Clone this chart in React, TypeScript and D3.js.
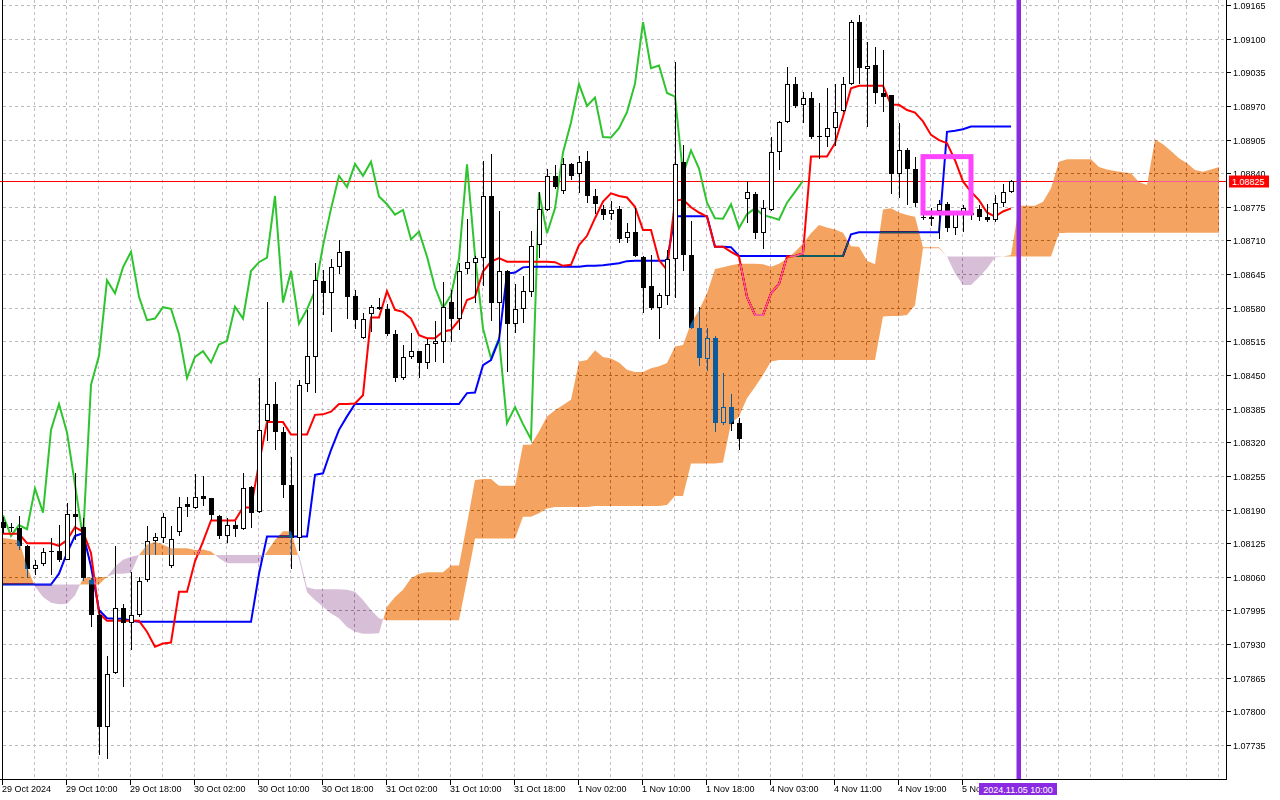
import React from 'react';
import * as d3 from 'd3';

// ---- Hourly EURUSD-like OHLC (bar 0 = 29 Oct 2024 02:00) ----
const openP = [
  1.08166, 1.08156, 1.08154, 1.08120, 1.08076, 1.08084, 1.08110, 1.08109, 1.08093, 1.08181,
  1.08157, 1.08054, 1.07986, 1.07770, 1.07875, 1.07999, 1.07970, 1.07986, 1.08054, 1.08130,
  1.08135, 1.08081, 1.08146, 1.08201, 1.08193, 1.08216, 1.08212, 1.08178, 1.08139, 1.08161,
  1.08152, 1.08234, 1.08185, 1.08362, 1.08394, 1.08339, 1.08238, 1.08135, 1.08432, 1.08485,
  1.08631, 1.08608, 1.08658, 1.08690, 1.08602, 1.08521, 1.08567, 1.08582, 1.08577, 1.08530,
  1.08444, 1.08485, 1.08496, 1.08473, 1.08509, 1.08514, 1.08592, 1.08559, 1.08654, 1.08666,
  1.08677, 1.08796, 1.08590, 1.08651, 1.08549, 1.08577, 1.08611, 1.08701, 1.08769, 1.08835,
  1.08806, 1.08857, 1.08838, 1.08864, 1.08796, 1.08770, 1.08761, 1.08770, 1.08714, 1.08726,
  1.08678, 1.08622, 1.08579, 1.08603, 1.08675, 1.08861, 1.08682, 1.08540, 1.08480, 1.08521,
  1.08357, 1.08388, 1.08357, 1.08791, 1.08800, 1.08724, 1.08769, 1.08880, 1.08938, 1.09012,
  1.08971, 1.08986, 1.08912, 1.08909, 1.08927, 1.08960, 1.09012, 1.09132, 1.09042, 1.09049,
  1.08995, 1.08991, 1.08838, 1.08884, 1.08849, 1.08756, 1.08755, 1.08766, 1.08780, 1.08734,
  1.08761, 1.08764, 1.08770, 1.08755, 1.08749, 1.08783, 1.08804,
];
const highP = [
  1.08176, 1.08164, 1.08178, 1.08122, 1.08092, 1.08115, 1.08135, 1.08160, 1.08202, 1.08260,
  1.08173, 1.08057, 1.07996, 1.07907, 1.08119, 1.08008, 1.08070, 1.08060, 1.08159, 1.08144,
  1.08183, 1.08158, 1.08214, 1.08214, 1.08258, 1.08254, 1.08213, 1.08179, 1.08173, 1.08167,
  1.08260, 1.08236, 1.08444, 1.08592, 1.08436, 1.08350, 1.08291, 1.08440, 1.08575, 1.08667,
  1.08653, 1.08675, 1.08711, 1.08690, 1.08615, 1.08569, 1.08585, 1.08598, 1.08587, 1.08537,
  1.08508, 1.08532, 1.08497, 1.08519, 1.08554, 1.08630, 1.08614, 1.08666, 1.08751, 1.08679,
  1.08864, 1.08878, 1.08766, 1.08653, 1.08626, 1.08641, 1.08728, 1.08804, 1.08848, 1.08856,
  1.08869, 1.08860, 1.08873, 1.08883, 1.08809, 1.08778, 1.08786, 1.08777, 1.08744, 1.08772,
  1.08679, 1.08682, 1.08608, 1.08691, 1.09055, 1.08895, 1.08748, 1.08582, 1.08540, 1.08525,
  1.08453, 1.08413, 1.08366, 1.08824, 1.08804, 1.08789, 1.08910, 1.08941, 1.09046, 1.09026,
  1.08997, 1.08997, 1.08976, 1.09004, 1.09013, 1.09026, 1.09136, 1.09146, 1.09094, 1.09083,
  1.09079, 1.08992, 1.08937, 1.08888, 1.08872, 1.08762, 1.08772, 1.08788, 1.08785, 1.08766,
  1.08778, 1.08769, 1.08778, 1.08781, 1.08798, 1.08820, 1.08827,
];
const lowP = [
  1.08144, 1.08147, 1.08111, 1.08057, 1.08063, 1.08081, 1.08063, 1.08089, 1.08092, 1.08131,
  1.08051, 1.07963, 1.07716, 1.07707, 1.07873, 1.07848, 1.07918, 1.07983, 1.08050, 1.08102,
  1.08125, 1.08078, 1.08139, 1.08175, 1.08191, 1.08196, 1.08170, 1.08133, 1.08126, 1.08137,
  1.08150, 1.08154, 1.08183, 1.08323, 1.08306, 1.08212, 1.08076, 1.08109, 1.08418, 1.08415,
  1.08566, 1.08534, 1.08646, 1.08559, 1.08539, 1.08519, 1.08534, 1.08575, 1.08526, 1.08437,
  1.08440, 1.08480, 1.08445, 1.08461, 1.08476, 1.08473, 1.08514, 1.08537, 1.08645, 1.08590,
  1.08622, 1.08555, 1.08521, 1.08456, 1.08532, 1.08551, 1.08601, 1.08676, 1.08766, 1.08809,
  1.08800, 1.08827, 1.08801, 1.08783, 1.08762, 1.08750, 1.08750, 1.08706, 1.08706, 1.08678,
  1.08570, 1.08575, 1.08519, 1.08585, 1.08598, 1.08651, 1.08538, 1.08467, 1.08458, 1.08339,
  1.08353, 1.08341, 1.08306, 1.08743, 1.08712, 1.08694, 1.08766, 1.08846, 1.08937, 1.08965,
  1.08937, 1.08907, 1.08867, 1.08890, 1.08892, 1.08959, 1.09010, 1.09012, 1.08930, 1.08973,
  1.08958, 1.08800, 1.08793, 1.08778, 1.08774, 1.08750, 1.08737, 1.08712, 1.08727, 1.08721,
  1.08727, 1.08750, 1.08748, 1.08745, 1.08745, 1.08775, 1.08802,
];
const closeP = [
  1.08154, 1.08154, 1.08120, 1.08076, 1.08083, 1.08108, 1.08107, 1.08093, 1.08181, 1.08175,
  1.08057, 1.07986, 1.07770, 1.07873, 1.07999, 1.07970, 1.07986, 1.08052, 1.08130, 1.08137,
  1.08176, 1.08133, 1.08195, 1.08195, 1.08215, 1.08211, 1.08179, 1.08139, 1.08160, 1.08152,
  1.08231, 1.08184, 1.08344, 1.08394, 1.08339, 1.08238, 1.08135, 1.08431, 1.08487, 1.08633,
  1.08608, 1.08658, 1.08688, 1.08601, 1.08556, 1.08559, 1.08581, 1.08578, 1.08529, 1.08444,
  1.08485, 1.08496, 1.08474, 1.08509, 1.08516, 1.08582, 1.08559, 1.08651, 1.08668, 1.08677,
  1.08796, 1.08590, 1.08651, 1.08549, 1.08577, 1.08613, 1.08700, 1.08771, 1.08835, 1.08813,
  1.08858, 1.08835, 1.08862, 1.08795, 1.08780, 1.08760, 1.08769, 1.08712, 1.08727, 1.08679,
  1.08619, 1.08580, 1.08604, 1.08675, 1.08857, 1.08681, 1.08540, 1.08482, 1.08521, 1.08357,
  1.08388, 1.08355, 1.08326, 1.08803, 1.08724, 1.08772, 1.08880, 1.08938, 1.09012, 1.08970,
  1.08986, 1.08910, 1.08909, 1.08927, 1.08958, 1.09013, 1.09132, 1.09043, 1.09048, 1.08995,
  1.08988, 1.08838, 1.08884, 1.08849, 1.08783, 1.08753, 1.08752, 1.08780, 1.08734, 1.08761,
  1.08772, 1.08759, 1.08755, 1.08750, 1.08783, 1.08804, 1.08825,
];

// ---- Ichimoku lines ----
const tenkan = [
  1.08143, 1.08143, 1.08143, 1.08125, 1.08125, 1.08125, 1.08125, 1.08120, 1.08131, 1.08156,
  1.08147, 1.08106, 1.07989, 1.07975, 1.07975, 1.07975, 1.07975, 1.07975, 1.07954, 1.07925,
  1.07931, 1.07933, 1.08031, 1.08031, 1.08090, 1.08128, 1.08169, 1.08169, 1.08169, 1.08169,
  1.08194, 1.08194, 1.08279, 1.08359, 1.08359, 1.08359, 1.08335, 1.08335, 1.08335, 1.08373,
  1.08374, 1.08379, 1.08394, 1.08394, 1.08395, 1.08411, 1.08561, 1.08561, 1.08612, 1.08576,
  1.08572, 1.08559, 1.08527, 1.08521, 1.08521, 1.08534, 1.08537, 1.08556, 1.08595, 1.08601,
  1.08650, 1.08669, 1.08676, 1.08669, 1.08669, 1.08669, 1.08669, 1.08669, 1.08669, 1.08668,
  1.08661, 1.08663, 1.08701, 1.08719, 1.08753, 1.08785, 1.08801, 1.08796, 1.08793, 1.08775,
  1.08730, 1.08730, 1.08672, 1.08653, 1.08787, 1.08789, 1.08774, 1.08764, 1.08756, 1.08698,
  1.08698, 1.08688, 1.08679, 1.08601, 1.08566, 1.08566, 1.08608, 1.08626, 1.08679, 1.08680,
  1.08685, 1.08872, 1.08872, 1.08872, 1.08898, 1.08949, 1.09004, 1.09009, 1.09009, 1.09009,
  1.09009, 1.08972, 1.08972, 1.08962, 1.08957, 1.08940, 1.08914, 1.08904, 1.08898, 1.08865,
  1.08824, 1.08804, 1.08788, 1.08764, 1.08756, 1.08766, 1.08772,
];
const kijun = [
  1.08045, 1.08045, 1.08045, 1.08045, 1.08045, 1.08045, 1.08045, 1.08066, 1.08106, 1.08139,
  1.08144, 1.08080, 1.07996, 1.07980, 1.07979, 1.07979, 1.07975, 1.07973, 1.07973, 1.07973,
  1.07973, 1.07973, 1.07973, 1.07973, 1.07973, 1.07973, 1.07973, 1.07973, 1.07973, 1.07973,
  1.07973, 1.07973, 1.08066, 1.08138, 1.08138, 1.08138, 1.08138, 1.08138, 1.08138, 1.08257,
  1.08260, 1.08305, 1.08344, 1.08370, 1.08394, 1.08394, 1.08394, 1.08394, 1.08394, 1.08394,
  1.08394, 1.08394, 1.08394, 1.08394, 1.08394, 1.08394, 1.08394, 1.08394, 1.08415, 1.08416,
  1.08469, 1.08479, 1.08518, 1.08646, 1.08648, 1.08658, 1.08659, 1.08659, 1.08659, 1.08659,
  1.08659, 1.08659, 1.08659, 1.08661, 1.08661, 1.08662, 1.08664, 1.08666, 1.08670, 1.08671,
  1.08671, 1.08671, 1.08671, 1.08671, 1.08757, 1.08757, 1.08757, 1.08757, 1.08757, 1.08698,
  1.08698, 1.08697, 1.08680, 1.08680, 1.08680, 1.08680, 1.08680, 1.08680, 1.08680, 1.08680,
  1.08680, 1.08680, 1.08680, 1.08680, 1.08680, 1.08680, 1.08722, 1.08726, 1.08726, 1.08726,
  1.08726, 1.08726, 1.08726, 1.08726, 1.08726, 1.08726, 1.08726, 1.08726, 1.08920, 1.08922,
  1.08925, 1.08930, 1.08930, 1.08930, 1.08930, 1.08930, 1.08930,
];
// Senkou spans, already displaced 26 bars forward (153 positions)
const spanA = [
  1.08135, 1.08133, 1.08130, 1.08080, 1.08041, 1.08021, 1.08010, 1.08007, 1.08008, 1.08024,
  1.08057, 1.08059, 1.08059, 1.08060, 1.08066, 1.08066, 1.08068, 1.08102, 1.08122, 1.08128,
  1.08122, 1.08115, 1.08115, 1.08115, 1.08112, 1.08113, 1.08109, 1.08096, 1.08086, 1.08086,
  1.08086, 1.08086, 1.08086, 1.08109, 1.08131, 1.08148, 1.08148, 1.08095, 1.08030, 1.08015,
  1.08002, 1.07989, 1.07980, 1.07963, 1.07954, 1.07950, 1.07950, 1.07951, 1.08002, 1.08021,
  1.08035, 1.08057, 1.08066, 1.08069, 1.08069, 1.08069, 1.08082, 1.08082, 1.08163, 1.08247,
  1.08249, 1.08249, 1.08236, 1.08236, 1.08236, 1.08315, 1.08315, 1.08341, 1.08370, 1.08382,
  1.08392, 1.08402, 1.08476, 1.08479, 1.08498, 1.08485, 1.08482, 1.08474, 1.08460, 1.08456,
  1.08456, 1.08463, 1.08467, 1.08473, 1.08505, 1.08508, 1.08550, 1.08575, 1.08608, 1.08655,
  1.08658, 1.08662, 1.08665, 1.08665, 1.08665, 1.08664, 1.08659, 1.08665, 1.08675, 1.08688,
  1.08704, 1.08724, 1.08740, 1.08735, 1.08731, 1.08725, 1.08699, 1.08698, 1.08671, 1.08664,
  1.08770, 1.08772, 1.08764, 1.08759, 1.08756, 1.08697, 1.08697, 1.08697, 1.08679, 1.08646,
  1.08624, 1.08624, 1.08639, 1.08656, 1.08677, 1.08679, 1.08682, 1.08777, 1.08777, 1.08777,
  1.08785, 1.08811, 1.08862, 1.08867, 1.08867, 1.08867, 1.08867, 1.08852, 1.08847, 1.08844,
  1.08842, 1.08840, 1.08823, 1.08817, 1.08905, 1.08896, 1.08883, 1.08869, 1.08859, 1.08846,
  1.08843, 1.08847, 1.08852,
];
const spanB = [
  1.08045, 1.08045, 1.08045, 1.08045, 1.08045, 1.08045, 1.08045, 1.08045, 1.08045, 1.08045,
  1.08045, 1.08045, 1.08045, 1.08060, 1.08080, 1.08093, 1.08099, 1.08102, 1.08102, 1.08102,
  1.08102, 1.08102, 1.08102, 1.08102, 1.08102, 1.08102, 1.08102, 1.08102, 1.08102, 1.08102,
  1.08102, 1.08102, 1.08102, 1.08102, 1.08102, 1.08102, 1.08102, 1.08102, 1.08040, 1.08036,
  1.08036, 1.08036, 1.08036, 1.08035, 1.08031, 1.08015, 1.07996, 1.07980, 1.07976, 1.07976,
  1.07976, 1.07976, 1.07976, 1.07976, 1.07976, 1.07976, 1.07976, 1.07976, 1.08054, 1.08134,
  1.08134, 1.08134, 1.08134, 1.08134, 1.08134, 1.08176, 1.08176, 1.08183, 1.08192, 1.08195,
  1.08195, 1.08195, 1.08195, 1.08195, 1.08197, 1.08197, 1.08197, 1.08197, 1.08197, 1.08197,
  1.08197, 1.08197, 1.08197, 1.08199, 1.08216, 1.08216, 1.08279, 1.08279, 1.08279, 1.08279,
  1.08281, 1.08357, 1.08370, 1.08405, 1.08427, 1.08450, 1.08476, 1.08479, 1.08479, 1.08479,
  1.08479, 1.08479, 1.08479, 1.08479, 1.08479, 1.08479, 1.08479, 1.08479, 1.08479, 1.08479,
  1.08563, 1.08564, 1.08564, 1.08566, 1.08585, 1.08695, 1.08695, 1.08695, 1.08679, 1.08679,
  1.08679, 1.08679, 1.08679, 1.08679, 1.08679, 1.08679, 1.08679, 1.08679, 1.08679, 1.08679,
  1.08679, 1.08679, 1.08724, 1.08725, 1.08725, 1.08725, 1.08725, 1.08725, 1.08725, 1.08725,
  1.08725, 1.08725, 1.08725, 1.08725, 1.08725, 1.08725, 1.08725, 1.08725, 1.08725, 1.08725,
  1.08725, 1.08725, 1.08725,
];
const CHIKOU_SHIFT = 26;

// ---- Axis labels ----
const priceTicks = [
  1.09165, 1.09100, 1.09035, 1.08970, 1.08905, 1.08840, 1.08775, 1.08710, 1.08645, 1.08580,
  1.08515, 1.08450, 1.08385, 1.08320, 1.08255, 1.08190, 1.08125, 1.08060, 1.07995, 1.07930,
  1.07865, 1.07800, 1.07735,
];
const timeLabelBars = [0, 8, 16, 24, 32, 40, 48, 56, 64, 72, 80, 88, 96, 104, 112, 120];
const timeLabels = [
  '29 Oct 2024', '29 Oct 10:00', '29 Oct 18:00', '30 Oct 02:00', '30 Oct 10:00', '30 Oct 18:00',
  '31 Oct 02:00', '31 Oct 10:00', '31 Oct 18:00', '1 Nov 02:00', '1 Nov 10:00', '1 Nov 18:00',
  '4 Nov 03:00', '4 Nov 11:00', '4 Nov 19:00', '5 Nov 03:00',
];
const currentPrice = 1.08825;
const cursorBar = 127;
const cursorLabel = '2024.11.05 10:00';
const boxBars = [115, 121];
const boxPrices = [1.08763, 1.08872];

const FONT = '"Liberation Sans", Arial, sans-serif';

export default function App() {
  const W = 1280;
  const H = 800;
  const plotR = 1226.5;
  const plotB = 779.5;
  const x = d3.scaleLinear().domain([0, 152]).range([3, 1219]);
  const y = d3.scaleLinear().domain([1.07735, 1.09165]).range([745, 5]);

  const line = d3.line<[number, number]>().x((d) => d[0]).y((d) => d[1]);
  const tenkanPath = line(tenkan.map((v, i) => [x(i), y(v)] as [number, number])) || '';
  const kijunPath = line(kijun.map((v, i) => [x(i), y(v)] as [number, number])) || '';
  const chikouPath =
    line(closeP.slice(CHIKOU_SHIFT).map((v, i) => [x(i), y(v)] as [number, number])) || '';

  // Cloud polygons
  const poly = (pts: number[][]) =>
    'M' + pts.map((p) => p[0].toFixed(2) + ',' + p[1].toFixed(2)).join('L') + 'Z';
  let orange = '';
  let thistle = '';
  for (let i = 0; i < spanA.length - 1; i++) {
    const x0 = x(i), x1 = x(i + 1);
    const a0 = y(spanA[i]), a1 = y(spanA[i + 1]);
    const b0 = y(spanB[i]), b1 = y(spanB[i + 1]);
    const d0 = spanA[i] - spanB[i];
    const d1 = spanA[i + 1] - spanB[i + 1];
    if (d0 >= 0 && d1 >= 0) orange += poly([[x0, a0], [x1, a1], [x1, b1], [x0, b0]]);
    else if (d0 <= 0 && d1 <= 0) thistle += poly([[x0, a0], [x1, a1], [x1, b1], [x0, b0]]);
    else {
      const t = d0 / (d0 - d1);
      const xc = x0 + t * (x1 - x0);
      const yc = a0 + t * (a1 - a0);
      const first = poly([[x0, a0], [xc, yc], [x0, b0]]);
      const second = poly([[xc, yc], [x1, a1], [x1, b1]]);
      if (d0 > 0) { orange += first; thistle += second; }
      else { thistle += first; orange += second; }
    }
  }

  const vGridBars = d3.range(4, 153, 4);
  const priceY = Math.round(y(currentPrice)) + 0.5;
  const cx = x(cursorBar);

  return (
    <div style={{ position: 'absolute', left: 0, top: 0, width: W, height: H }}>
      <svg width={W} height={H} style={{ display: 'block' }} fontFamily={FONT}>
        <defs>
          <clipPath id="timeLabelClip">
            <rect x={0} y={780} width={cx - 40} height={20} />
          </clipPath>
        </defs>
        <rect x={0} y={0} width={W} height={H} fill="#ffffff" />
        {/* grid */}
        <g shapeRendering="crispEdges" strokeDasharray="3,3" strokeWidth={1}>
          {priceTicks.map((p) => (
            <line key={'h' + p} x1={3} x2={plotR} y1={Math.round(y(p)) + 0.5} y2={Math.round(y(p)) + 0.5} stroke="#b6bcb6" />
          ))}
          {vGridBars.map((b) => (
            <line key={'v' + b} x1={Math.round(x(b)) - 0.5} x2={Math.round(x(b)) - 0.5} y1={0} y2={plotB} stroke="#cbb8cc" />
          ))}
        </g>
        {/* bid line */}
        <line x1={0} x2={plotR} y1={priceY} y2={priceY} stroke="#ff0000" strokeWidth={1} shapeRendering="crispEdges" />
        {/* indicator lines */}
        <path d={chikouPath} fill="none" stroke="#2fc42f" strokeWidth={2} />
        <path d={kijunPath} fill="none" stroke="#0000ff" strokeWidth={2} />
        <path d={tenkanPath} fill="none" stroke="#ff0000" strokeWidth={2} />
        {/* candles */}
        <g shapeRendering="crispEdges">
          {closeP.map((c, i) => {
            const o = openP[i];
            const xi = Math.round(x(i));
            const top = Math.round(y(Math.max(o, c)));
            const bot = Math.round(y(Math.min(o, c)));
            const bull = c >= o;
            const hgt = Math.max(1, bot - top);
            return (
              <g key={'c' + i}>
                <line x1={xi + 0.5} x2={xi + 0.5} y1={y(highP[i])} y2={y(lowP[i])} stroke="#000" strokeWidth={1} />
                {hgt <= 1 ? (
                  <line x1={xi - 2} x2={xi + 3} y1={top + 0.5} y2={top + 0.5} stroke="#000" strokeWidth={1} />
                ) : bull ? (
                  <rect x={xi - 1.5} y={top + 0.5} width={4} height={hgt - 1} fill="#fff" stroke="#000" strokeWidth={1} />
                ) : (
                  <rect x={xi - 2} y={top} width={5} height={hgt} fill="#000" />
                )}
              </g>
            );
          })}
        </g>
        {/* Kumo, drawn in XOR-like difference mode like the terminal */}
        <g style={{ mixBlendMode: 'difference' }}>
          <path d={orange} fill="#0b5b9f" />
          <path d={thistle} fill="#274027" />
        </g>
        {/* magenta rectangle */}
        <rect
          x={x(boxBars[0])}
          y={y(boxPrices[1])}
          width={x(boxBars[1]) - x(boxBars[0])}
          height={y(boxPrices[0]) - y(boxPrices[1])}
          fill="none"
          stroke="#ff44ff"
          strokeWidth={5}
        />
        {/* vertical cursor line */}
        <rect x={cx - 2.5} y={0} width={4.5} height={plotB} fill="#8a2be2" />
        {/* axes */}
        <g shapeRendering="crispEdges" stroke="#000" strokeWidth={1}>
          <line x1={plotR} x2={plotR} y1={0} y2={plotB} />
          <line x1={0} x2={plotR} y1={plotB} y2={plotB} />
          <line x1={2.5} x2={2.5} y1={0} y2={plotB} />
          {priceTicks.map((p) => (
            <line key={'pt' + p} x1={plotR} x2={plotR + 4} y1={Math.round(y(p)) + 0.5} y2={Math.round(y(p)) + 0.5} />
          ))}
          {timeLabelBars.map((b) => (
            <line key={'tt' + b} x1={Math.round(x(b)) - 0.5} x2={Math.round(x(b)) - 0.5} y1={plotB} y2={plotB + 5} />
          ))}
        </g>
        <g fontSize={9} fill="#000">
          {priceTicks.map((p) => (
            <text key={'pl' + p} x={1233} y={Math.round(y(p)) + 3.5}>{p.toFixed(5)}</text>
          ))}
          <g clipPath="url(#timeLabelClip)">
            {timeLabelBars.map((b, k) => (
              <text key={'tl' + b} x={Math.round(x(b)) - 1} y={792}>{timeLabels[k]}</text>
            ))}
          </g>
        </g>
        {/* current price label */}
        <rect x={1229} y={priceY - 6} width={40} height={12} fill="#ff0000" />
        <text x={1232} y={priceY + 3.5} fontSize={9} fill="#fff">{currentPrice.toFixed(5)}</text>
        {/* cursor time label */}
        <rect x={cx - 40} y={783} width={78} height={12} fill="#8a2be2" />
        <text x={cx - 1} y={792.5} fontSize={9} fill="#fff" textAnchor="middle">{cursorLabel}</text>
      </svg>
    </div>
  );
}
